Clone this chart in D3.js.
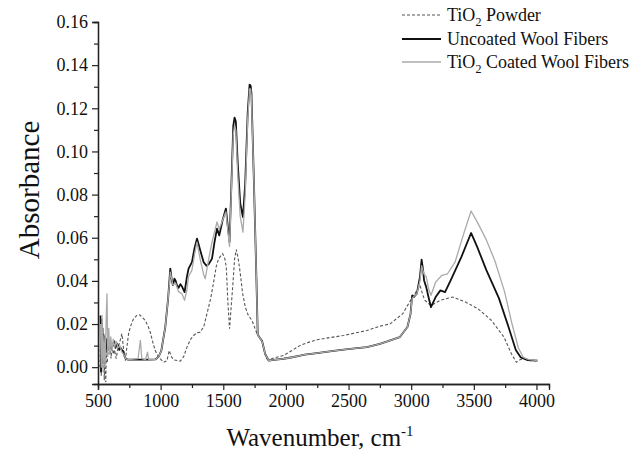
<!DOCTYPE html>
<html>
<head>
<meta charset="utf-8">
<script src="https://cdn.jsdelivr.net/npm/d3@7"></script>
<style>
  body { margin: 0; background: #fff; }
  text { font-family: "Liberation Serif", "Times New Roman", serif; fill: #111; }
</style>
</head>
<body>
<svg id="chart" width="640" height="453"></svg>
<script>
// ---- data (wavenumber cm-1, absorbance) ----
var uncoatedWn = [520,524,528,532,536,540,545,550,556,562,568,575,582,590,598,606,614,622,630,640,650,660,670,680,690,700,712,725,740,800,900,960,985,1005,1037,1060,1077,1090,1098,1110,1119,1130,1143,1158,1170,1191,1210,1223,1250,1270,1290,1303,1316,1343,1365,1383,1410,1430,1450,1468,1494,1521,1535,1550,1565,1580,1590,1600,1615,1635,1657,1675,1695,1710,1718,1725,1745,1765,1775,1810,1835,1862,1920,1981,2050,2115,2150,2248,2350,2461,2550,2647,2750,2833,2908,2970,2995,3008,3020,3045,3070,3083,3095,3103,3120,3138,3158,3195,3233,3270,3315,3400,3478,3525,3600,3700,3775,3835,3875,3930,4008];
var uncoatedAbs = [0.024,-0.002,0.022,0.004,0.018,0.002,0.015,0.006,0.014,0.008,0.013,0.009,0.012,0.010,0.012,0.009,0.011,0.010,0.012,0.009,0.011,0.010,0.008,0.009,0.008,0.0075,0.005,0.0038,0.0035,0.0035,0.0035,0.0036,0.005,0.0075,0.0186,0.032,0.0457,0.040,0.038,0.041,0.0402,0.038,0.0368,0.0385,0.0374,0.0348,0.042,0.0457,0.0487,0.055,0.0596,0.057,0.0542,0.0487,0.047,0.0477,0.0503,0.058,0.0642,0.0611,0.068,0.0735,0.066,0.058,0.085,0.112,0.1157,0.114,0.095,0.076,0.0696,0.085,0.118,0.131,0.1305,0.127,0.085,0.040,0.015,0.012,0.006,0.0031,0.0035,0.0039,0.0046,0.0054,0.0058,0.0065,0.0073,0.0081,0.0087,0.0093,0.0108,0.0124,0.0139,0.0186,0.0248,0.0333,0.0325,0.0341,0.0418,0.0498,0.045,0.0402,0.0371,0.0325,0.0278,0.0325,0.0356,0.0348,0.0402,0.051,0.0622,0.056,0.045,0.032,0.019,0.008,0.0045,0.0033,0.003];

var coatedWn = [520,526,532,540,548,556,565,572,578,586,594,602,612,622,632,645,660,675,690,705,720,740,820,838,850,880,895,905,960,985,1005,1037,1060,1077,1098,1119,1143,1170,1191,1210,1223,1250,1270,1290,1316,1343,1356,1383,1410,1450,1468,1494,1521,1550,1565,1580,1590,1600,1615,1635,1657,1675,1695,1710,1718,1725,1745,1765,1775,1810,1835,1862,1920,1981,2050,2115,2150,2248,2350,2461,2550,2647,2750,2833,2908,2970,2995,3008,3045,3070,3083,3103,3120,3140,3158,3195,3245,3290,3350,3420,3478,3530,3600,3670,3745,3805,3855,3895,3940,4008];
var coatedAbs = [0.020,0.0,0.024,-0.002,0.015,0.0,0.022,0.034,0.005,0.018,0.006,0.014,0.008,0.013,0.009,0.012,0.009,0.010,0.007,0.006,0.004,0.0035,0.004,0.0124,0.004,0.0035,0.007,0.0035,0.0036,0.005,0.0075,0.0186,0.032,0.044,0.038,0.039,0.035,0.034,0.031,0.036,0.042,0.045,0.052,0.058,0.050,0.043,0.041,0.050,0.058,0.0673,0.064,0.068,0.072,0.056,0.083,0.108,0.112,0.110,0.090,0.070,0.0626,0.080,0.115,0.129,0.129,0.125,0.085,0.040,0.015,0.012,0.006,0.0031,0.0035,0.0039,0.0046,0.0054,0.0058,0.0065,0.0073,0.0081,0.0087,0.0093,0.0108,0.0124,0.0139,0.0186,0.0248,0.032,0.034,0.040,0.047,0.043,0.042,0.036,0.0333,0.0394,0.0426,0.0433,0.0487,0.062,0.0724,0.067,0.059,0.049,0.035,0.020,0.009,0.0045,0.0035,0.003];

var powderWn = [515,520,526,532,538,544,550,556,562,568,574,580,588,596,604,612,622,632,645,660,675,691,705,718,730,744,760,784,810,832,855,877,900,917,940,957,984,1024,1050,1069,1085,1103,1157,1185,1210,1240,1263,1290,1316,1345,1370,1400,1423,1445,1463,1494,1510,1524,1537,1550,1563,1577,1590,1604,1620,1636,1655,1676,1700,1729,1769,1809,1830,1849,1862,1920,1981,2050,2115,2180,2248,2350,2461,2550,2647,2750,2833,2933,2995,3040,3070,3090,3108,3158,3233,3333,3433,3533,3640,3740,3800,3840,3870,3900,3950,4008];
var powderAbs = [0.000,0.012,-0.004,0.018,0.000,0.014,-0.006,0.010,-0.007,0.012,0.002,0.014,0.006,0.012,0.004,0.010,0.006,0.008,0.004,0.009,0.012,0.0155,0.008,0.003,0.009,0.0155,0.019,0.0225,0.024,0.0243,0.023,0.0217,0.019,0.0162,0.011,0.0077,0.0046,0.0023,0.003,0.0077,0.005,0.0034,0.0028,0.005,0.0093,0.013,0.0147,0.016,0.0162,0.019,0.0248,0.032,0.0394,0.047,0.0503,0.0526,0.051,0.0464,0.030,0.0178,0.028,0.0387,0.050,0.0545,0.050,0.0433,0.034,0.0278,0.024,0.0217,0.0155,0.0124,0.007,0.0039,0.0035,0.0045,0.0054,0.0078,0.0101,0.0115,0.0127,0.0137,0.0147,0.0158,0.017,0.019,0.0201,0.0248,0.031,0.035,0.0379,0.034,0.031,0.0286,0.031,0.0325,0.0302,0.0271,0.0217,0.014,0.0062,0.0023,0.0035,0.0042,0.003,0.003];

var xTicks = [500,1000,1500,2000,2500,3000,3500,4000];
var yTicks = [0.00,0.02,0.04,0.06,0.08,0.10,0.12,0.14,0.16];
var legendNames = ["Powder", "Uncoated Wool Fibers", "Coated Wool Fibers"];

var svg = d3.select("#chart");
var mLeft = 98, mRight = 549, mTop = 22, mBottom = 384;

var x = d3.scaleLinear().domain([500, 4100]).range([mLeft, mRight]);
var y = d3.scaleLinear().domain([-0.0078, 0.16]).range([mBottom, mTop]);

// axes
var xAxis = d3.axisBottom(x).tickValues(xTicks).tickSize(6).tickPadding(4).tickFormat(d3.format("d"));
var xMinor = d3.axisBottom(x).tickValues(d3.range(750, 4001, 500)).tickSize(4).tickFormat("");
var yAxis = d3.axisLeft(y).tickValues(yTicks).tickSize(6).tickPadding(4).tickFormat(d3.format(".2f"));
var yMinor = d3.axisLeft(y).tickValues(d3.range(0.01, 0.16, 0.02)).tickSize(4).tickFormat("");

function styleAxis(g) {
  g.select(".domain").attr("stroke", "#222").attr("stroke-width", 1.3);
  g.selectAll(".tick line").attr("stroke", "#222").attr("stroke-width", 1.2);
  g.selectAll(".tick text").style("font-family", '"Liberation Serif", serif').style("font-size", "18px").attr("fill", "#111");
}

svg.append("g").attr("transform", "translate(0," + mBottom + ")").call(xMinor).call(styleAxis);
svg.append("g").attr("transform", "translate(0," + mBottom + ")").call(xAxis).call(styleAxis);
svg.append("g").attr("transform", "translate(" + mLeft + ",0)").call(yMinor).call(styleAxis);
svg.append("g").attr("transform", "translate(" + mLeft + ",0)").call(yAxis).call(styleAxis);

// axis titles
svg.append("text")
  .attr("transform", "translate(39,190) rotate(-90)")
  .attr("text-anchor", "middle")
  .style("font-size", "29px")
  .text("Absorbance");

var xt = svg.append("text")
  .attr("x", 320).attr("y", 446)
  .attr("text-anchor", "middle")
  .style("font-size", "25px");
xt.append("tspan").text("Wavenumber, cm");
xt.append("tspan").attr("dy", -10).style("font-size", "15px").text("-1");

// lines
var line = d3.line().x(d => x(d[0])).y(d => y(d[1])).curve(d3.curveLinear);

svg.append("path")
  .datum(d3.zip(powderWn, powderAbs))
  .attr("d", line)
  .attr("fill", "none").attr("stroke", "#555").attr("stroke-width", 1.1)
  .attr("stroke-dasharray", "3,2");

svg.append("path")
  .datum(d3.zip(uncoatedWn, uncoatedAbs))
  .attr("d", line)
  .attr("fill", "none").attr("stroke", "#111").attr("stroke-width", 1.8)
  .attr("stroke-linejoin", "round");

svg.append("path")
  .datum(d3.zip(coatedWn, coatedAbs))
  .attr("d", line)
  .attr("fill", "none").attr("stroke", "#aaa").attr("stroke-width", 1.3)
  .attr("stroke-linejoin", "round");

// legend
var legend = svg.append("g").attr("transform", "translate(402,0)");
var legStyles = [
  {stroke: "#555", w: 1.1, dash: "3,2", tio2: true},
  {stroke: "#111", w: 1.8, dash: null, tio2: false},
  {stroke: "#aaa", w: 1.3, dash: null, tio2: true}
];
var legY = [15, 39, 62];
legendNames.forEach(function(name, i) {
  var s = legStyles[i];
  legend.append("line")
    .attr("x1", 0).attr("x2", 39).attr("y1", legY[i]).attr("y2", legY[i])
    .attr("stroke", s.stroke).attr("stroke-width", s.w)
    .attr("stroke-dasharray", s.dash);
  var t = legend.append("text").attr("x", 45).attr("y", legY[i] + 6).style("font-size", "18px");
  if (s.tio2) {
    t.append("tspan").text("TiO");
    t.append("tspan").attr("dy", 5).style("font-size", "12px").text("2");
    t.append("tspan").attr("dy", -5).text(" " + name);
  } else {
    t.text(name);
  }
});
</script>
</body>
</html>
